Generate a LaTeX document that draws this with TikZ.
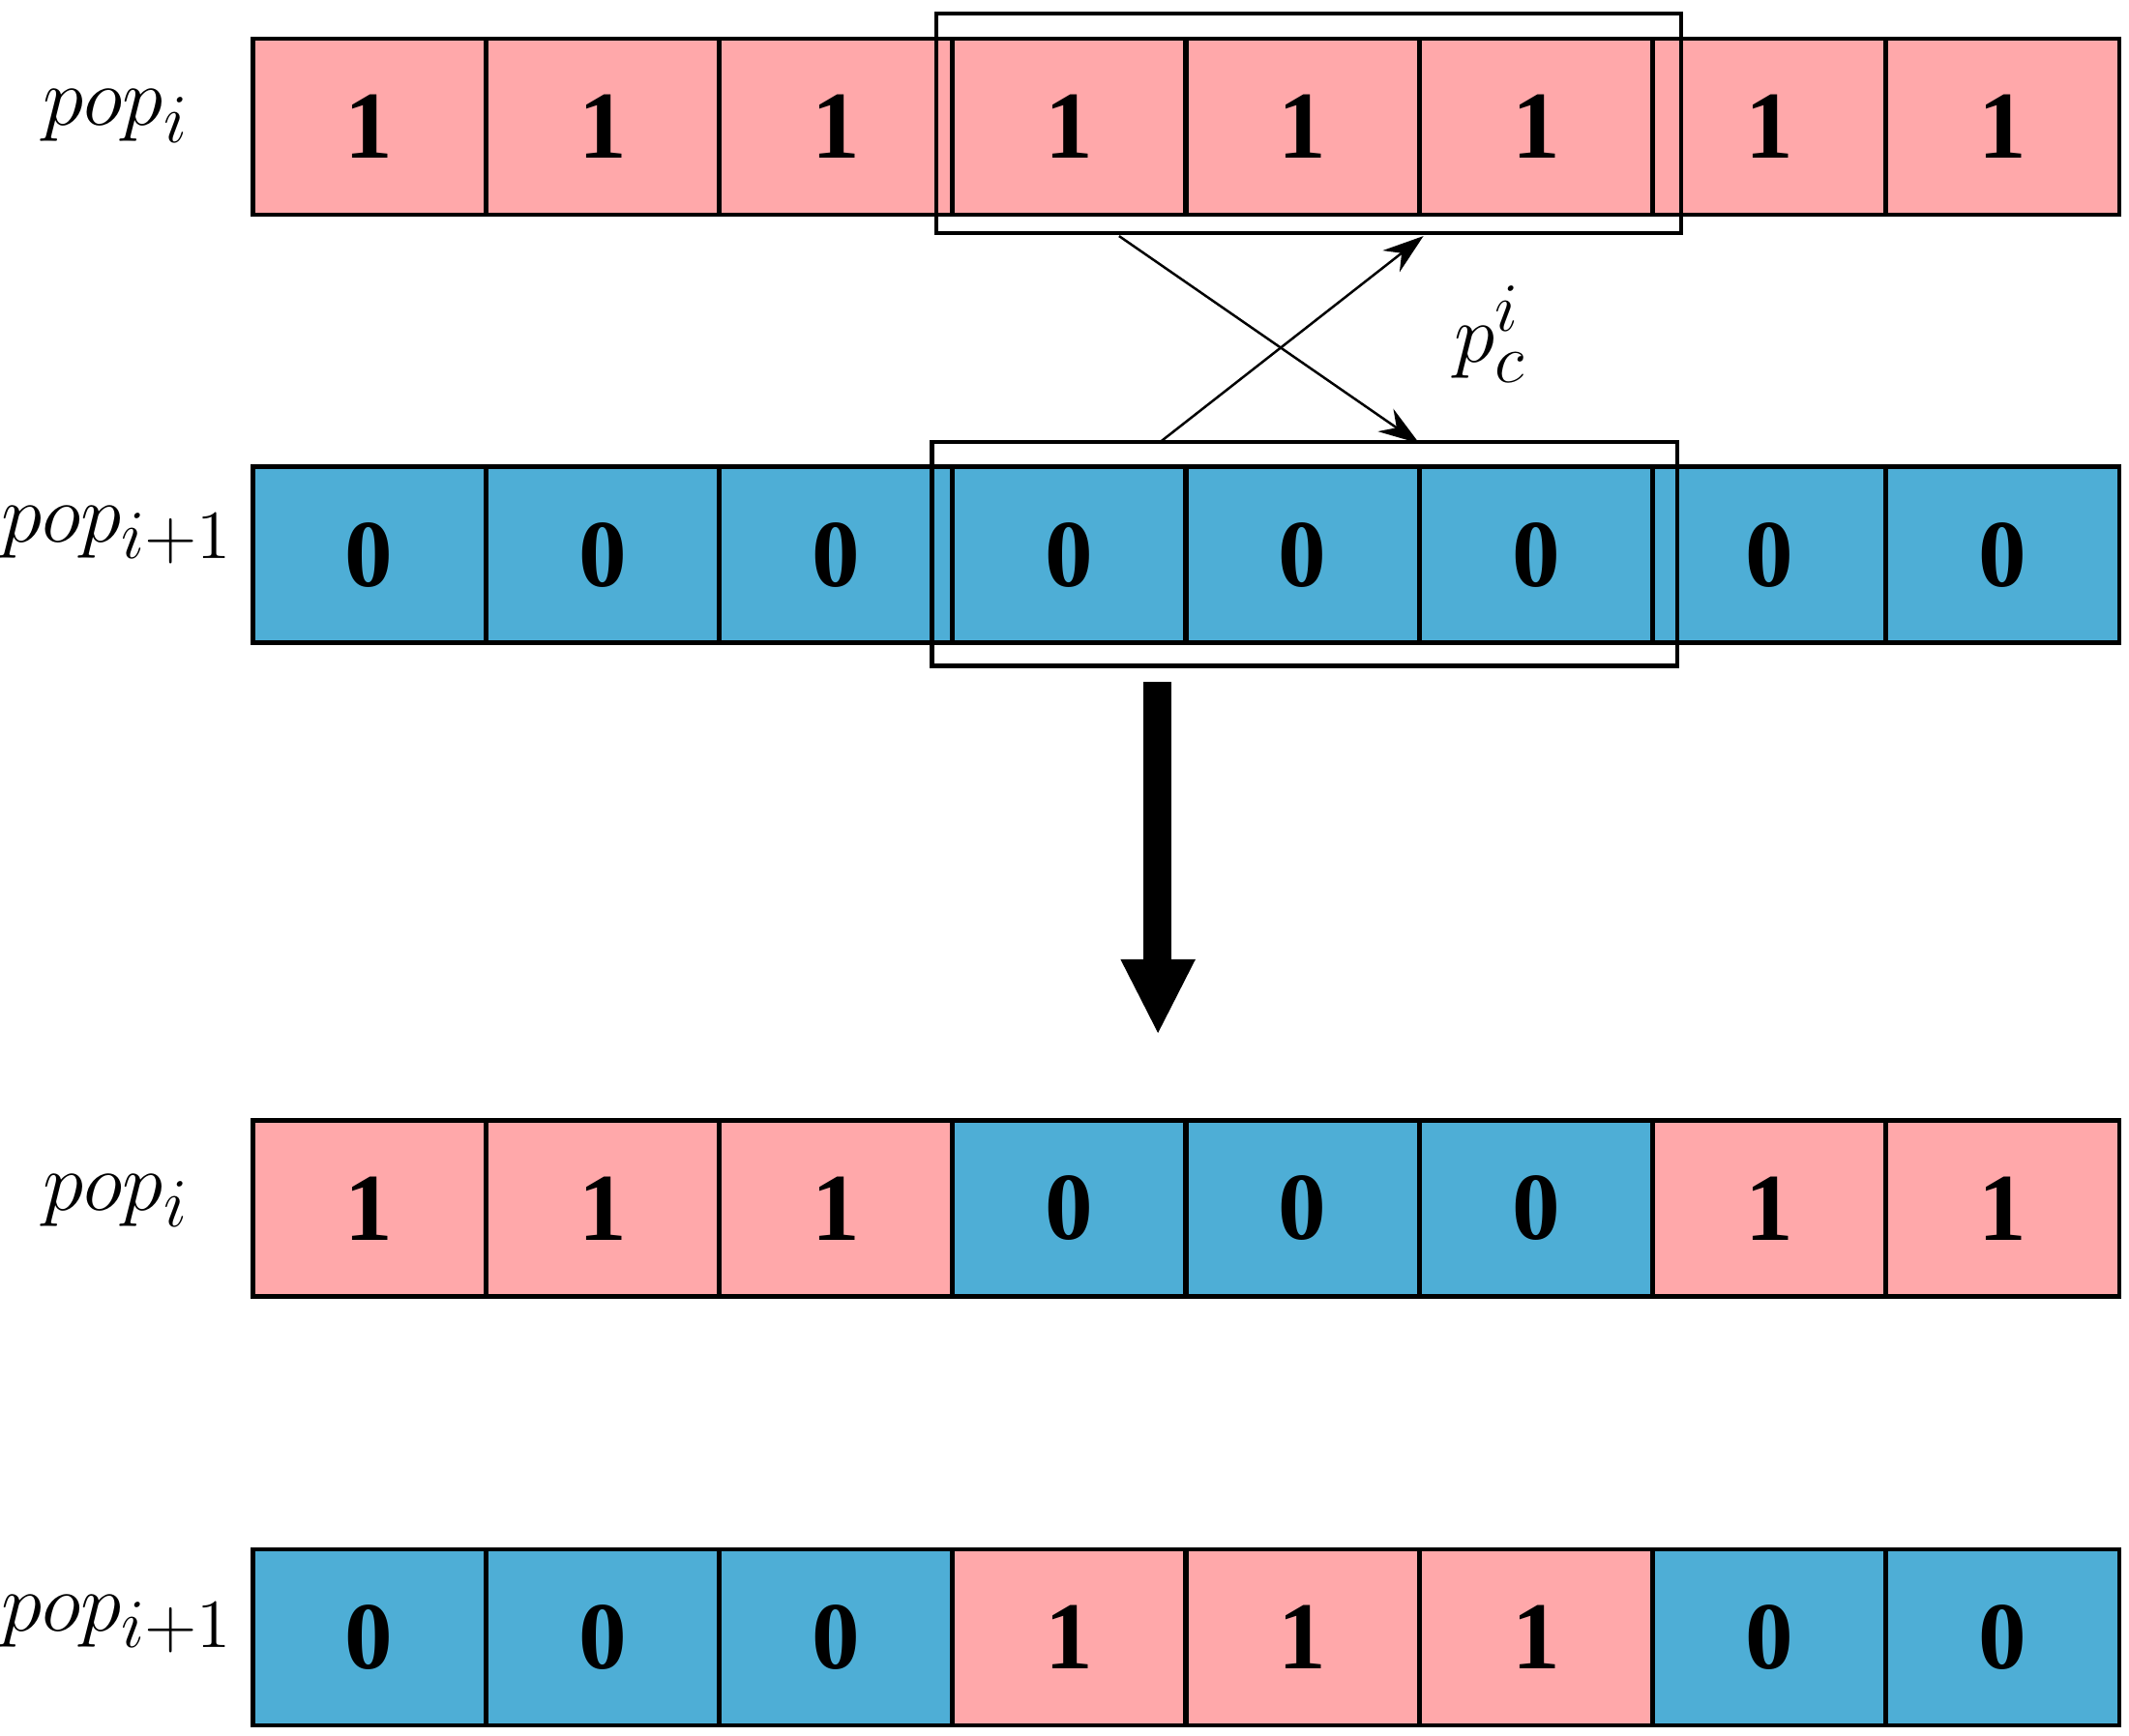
\documentclass[tikz,border=0pt]{standalone}
\usepackage{fontspec}
\setmainfont{Liberation Serif}
\usetikzlibrary{arrows.meta}
\begin{document}
\begin{tikzpicture}[x=0.1mm,y=-0.1mm,
  cell/.style={draw=black,line width=0.9pt,minimum width=17.05mm,minimum height=12.9mm,inner sep=0pt,font=\fontsize{20}{22}\selectfont\bfseries},
  P/.style={cell,fill={rgb,255:red,255;green,168;blue,170}},
  B/.style={cell,fill={rgb,255:red,78;green,174;blue,214}},
  lab/.style={font=\fontsize{19}{21}\selectfont},
  frame/.style={draw=black,line width=0.9pt}]
\useasboundingbox (0,0) rectangle (1560,1272);
\foreach \i in {1,...,8}{
  \node[P] (a\i) at ({185+171*(\i-0.5)},93) {1};
  \node[B] (b\i) at ({185+171*(\i-0.5)},406.5) {0};
}
\foreach \i/\t/\v in {1/P/1,2/P/1,3/P/1,4/B/0,5/B/0,6/B/0,7/P/1,8/P/1}{
  \node[\t] (c\i) at ({185+171*(\i-0.5)},885.5) {\v};
}
\foreach \i/\t/\v in {1/B/0,2/B/0,3/B/0,4/P/1,5/P/1,6/P/1,7/B/0,8/B/0}{
  \node[\t] (d\i) at ({185+171*(\i-0.5)},1200) {\v};
}
\draw[frame] (686,10) rectangle (1232,171);
\draw[frame] (683,324) rectangle (1229,488);
\coordinate (s1) at (820,173); \coordinate (e1) at (1040,325);
\coordinate (s2) at (850,324); \coordinate (e2) at (1043,173);
\draw[-{Stealth[length=3mm,width=2mm]},line width=0.5pt] (s1) -- (e1);
\draw[-{Stealth[length=3mm,width=2mm]},line width=0.5pt] (s2) -- (e2);
\node[lab] (pc) at (1092,245) {$p_c^i$};
\fill (838,500) rectangle (858,705);
\fill (821,703) -- (876,703) -- (848.5,757) -- cycle;
\node[lab] (l1) at (85,85) {$pop_i$};
\node[lab] (l2) at (86,392) {$pop_{i+1}$};
\node[lab] (l3) at (85,880) {$pop_i$};
\node[lab] (l4) at (86,1190) {$pop_{i+1}$};
\end{tikzpicture}
\end{document}
